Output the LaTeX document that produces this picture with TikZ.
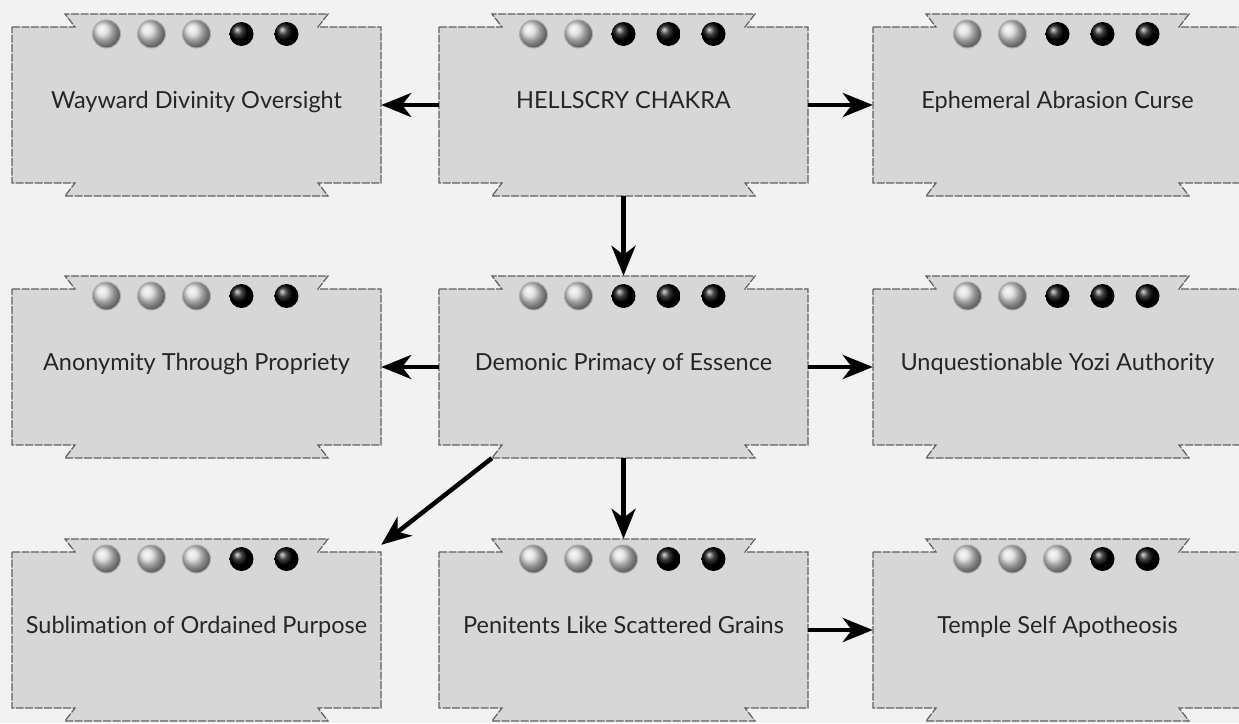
\documentclass[tikz,border=0pt]{standalone}
\usepackage{fontspec}
\setmainfont{Lato}[Ligatures=NoCommon]
\usetikzlibrary{arrows.meta, backgrounds}
\usepackage{xcolor}
\definecolor{cPage}{HTML}{F2F2F2}
\definecolor{cCharm}{HTML}{D7D7D7}
\definecolor{bCharm}{HTML}{606060}
\definecolor{tCharm}{HTML}{262626}
\tikzset{
  charm/.style={minimum width=369pt, minimum height=182pt, inner sep=0pt,
                text height=17pt, text depth=11pt,
                font=\fontsize{23.5}{25}\selectfont, text=tCharm},
  charmedge/.style={fill=cCharm, draw=bCharm, line width=1.2pt,
                    dash pattern=on 8pt off 1.5pt},
  gemlit/.style={ball color=gray!30},
  gemdark/.style={ball color=black},
  arr/.style={-{Stealth[length=30pt,width=24pt,inset=9pt]}, draw=black, line width=4.5pt},
}
% name, x, y, lit gems, label
\newcommand{\charm}[5]{%
  \node[charm] (#1) at (#2,#3) {#5};
  \begin{scope}[on background layer, shift={(#2,#3)}]
    \draw[charmedge] (-184.5,-78) -- (-121.5,-78) -- (-131.5,-91) -- (131.5,-91)
      -- (121.5,-78) -- (184.5,-78) -- (184.5,78) -- (121.5,78) -- (131.5,91)
      -- (-131.5,91) -- (-121.5,78) -- (-184.5,78) -- cycle;
    \foreach \g in {1,...,5} {
      \ifnum\g>#4
        \shade[gemdark] ({(\g-3)*45},-71) circle (12);
      \else
        \shade[gemlit] ({(\g-3)*45},-71) circle (14);
        \draw[gray!65, line width=1pt] ({(\g-3)*45},-71) circle (14);
      \fi
    }
  \end{scope}
}

\begin{document}
\begin{tikzpicture}[x=1pt, y=-1pt]

% Page
\begin{scope}[on background layer]
  \fill[cPage] (0,0) rectangle (1239,723);
\end{scope}
\useasboundingbox (0,0) rectangle (1239,723);

% Top row
\charm{wayward}{196.5}{105}{3}{Wayward Divinity Oversight}
\charm{hellscry}{623.5}{105}{2}{HELLSCRY CHAKRA}
\charm{ephemeral}{1057.5}{105}{2}{Ephemeral Abrasion Curse}

% Middle row
\charm{anonymity}{196.5}{367}{3}{Anonymity Through Propriety}
\charm{demonic}{623.5}{367}{2}{Demonic Primacy of Essence}
\charm{yozi}{1057.5}{367}{2}{Unquestionable Yozi Authority}

% Bottom row
\charm{sublimation}{196.5}{630}{3}{Sublimation of Ordained Purpose}
\charm{penitents}{623.5}{630}{3}{Penitents Like Scattered Grains}
\charm{temple}{1057.5}{630}{3}{Temple Self Apotheosis}

% Arrows
\draw[arr] (hellscry.west) -- (wayward.east);
\draw[arr] (hellscry.east) -- (ephemeral.west);
\draw[arr] (hellscry.south) -- (demonic.north);
\draw[arr] (demonic.west) -- (anonymity.east);
\draw[arr] (demonic.east) -- (yozi.west);
\draw[arr] ([xshift=53pt]demonic.south west) -- ([yshift=-6pt]sublimation.north east);
\draw[arr] (demonic.south) -- (penitents.north);
\draw[arr] (penitents.east) -- (temple.west);

\end{tikzpicture}
\end{document}
